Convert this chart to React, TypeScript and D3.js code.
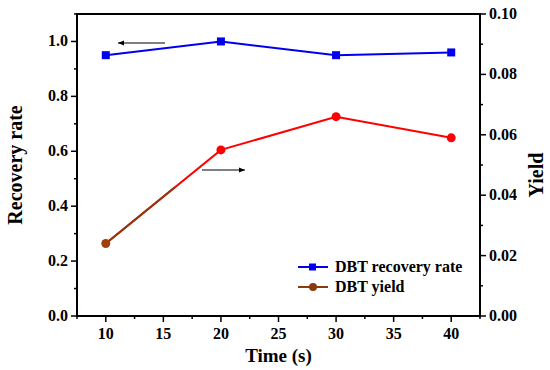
import * as d3 from "d3";
import { useRef, useEffect } from "react";

const times = [10, 20, 30, 40];
const recoveryRate = [0.95, 1.0, 0.95, 0.96];
const yieldValues = [0.024, 0.055, 0.066, 0.059];
const xTicks = [10, 15, 20, 25, 30, 35, 40];
const leftTicks = [0, 0.2, 0.4, 0.6, 0.8, 1.0];
const rightTicks = [0, 0.02, 0.04, 0.06, 0.08, 0.1];

export default function App() {
    const ref = useRef<SVGSVGElement | null>(null);

    useEffect(() => {
        const svg = d3.select(ref.current);
        svg.selectAll("*").remove();

        const width = 550;
        const height = 370;
        const m = { left: 77, right: 70, top: 14, bottom: 54 };
        const font = "'Liberation Serif', 'Times New Roman', 'DejaVu Serif', serif";

        svg.attr("width", width).attr("height", height).attr("font-family", font);

        const x = d3.scaleLinear().domain([7.5, 42.5]).range([m.left, width - m.right]);
        const yL = d3.scaleLinear().domain([0, 1.1]).range([height - m.bottom, m.top]);
        const yR = d3.scaleLinear().domain([0, 0.1]).range([height - m.bottom, m.top]);

        const x0 = m.left, x1 = width - m.right, yb = height - m.bottom, yt = m.top;

        const label = (sel: any, size: number) =>
            sel.style("font-family", font).attr("font-size", size).attr("font-weight", "bold");

        // frame
        svg.append("rect")
            .attr("x", x0).attr("y", yt)
            .attr("width", x1 - x0).attr("height", yb - yt)
            .attr("fill", "none").attr("stroke", "#000").attr("stroke-width", 2);

        const g = svg.append("g");

        // x ticks
        d3.range(7.5, 42.6, 2.5).forEach((t) => {
            const major = xTicks.includes(t);
            g.append("line")
                .attr("x1", x(t)).attr("x2", x(t))
                .attr("y1", yb).attr("y2", yb + (major ? 6 : 3))
                .attr("stroke", "#000").attr("stroke-width", 1.5);
        });
        xTicks.forEach((t) => {
            label(g.append("text"), 16)
                .attr("x", x(t)).attr("y", yb + 23)
                .attr("text-anchor", "middle")
                .text(t);
        });

        // left ticks
        d3.range(0, 1.11, 0.1).forEach((t, i) => {
            const major = i % 2 === 0;
            g.append("line")
                .attr("x1", x0).attr("x2", x0 - (major ? 6 : 3))
                .attr("y1", yL(t)).attr("y2", yL(t))
                .attr("stroke", "#000").attr("stroke-width", 1.5);
        });
        leftTicks.forEach((t) => {
            label(g.append("text"), 16)
                .attr("x", x0 - 9).attr("y", yL(t) + 5)
                .attr("text-anchor", "end")
                .text(t.toFixed(1));
        });

        // right ticks
        d3.range(0, 0.101, 0.01).forEach((t, i) => {
            const major = i % 2 === 0;
            g.append("line")
                .attr("x1", x1).attr("x2", x1 + (major ? 6 : 3))
                .attr("y1", yR(t)).attr("y2", yR(t))
                .attr("stroke", "#000").attr("stroke-width", 1.5);
        });
        rightTicks.forEach((t) => {
            label(g.append("text"), 16)
                .attr("x", x1 + 9).attr("y", yR(t) + 5)
                .attr("text-anchor", "start")
                .text(t.toFixed(2));
        });

        // axis titles
        label(svg.append("text"), 20)
            .attr("transform", `translate(22,${(yt + yb) / 2}) rotate(-90)`)
            .attr("text-anchor", "middle")
            .text("Recovery rate");
        label(svg.append("text"), 20)
            .attr("transform", `translate(543,${(yt + yb) / 2 + 10}) rotate(-90)`)
            .attr("text-anchor", "middle")
            .text("Yield");
        label(svg.append("text"), 19)
            .attr("x", (x0 + x1) / 2).attr("y", 362)
            .attr("text-anchor", "middle")
            .text("Time (s)");

        // lines
        const blueLine = d3.line<number>()
            .x((_, i) => x(times[i]))
            .y((d) => yL(d));
        const redLine = d3.line<number>()
            .x((_, i) => x(times[i]))
            .y((d) => yR(d));

        svg.append("path").attr("d", redLine(yieldValues)!)
            .attr("fill", "none").attr("stroke", "#f00").attr("stroke-width", 2);
        // brown overlay on first segment
        const f = 0.6;
        svg.append("line")
            .attr("x1", x(times[0])).attr("y1", yR(yieldValues[0]))
            .attr("x2", x(times[0] + f * (times[1] - times[0])))
            .attr("y2", yR(yieldValues[0] + f * (yieldValues[1] - yieldValues[0])))
            .attr("stroke", "#8b3a0e").attr("stroke-width", 2);

        svg.append("path").attr("d", blueLine(recoveryRate)!)
            .attr("fill", "none").attr("stroke", "#0000ee").attr("stroke-width", 2);

        recoveryRate.forEach((d, i) => {
            svg.append("rect")
                .attr("x", x(times[i]) - 4).attr("y", yL(d) - 4)
                .attr("width", 8).attr("height", 8)
                .attr("fill", "#0000ee");
        });
        yieldValues.forEach((d, i) => {
            svg.append("circle")
                .attr("cx", x(times[i])).attr("cy", yR(d)).attr("r", 4.5)
                .attr("fill", i === 0 ? "#a0400e" : "#f00");
        });

        // arrows
        const defs = svg.append("defs");
        defs.append("marker")
            .attr("id", "arr").attr("viewBox", "0 0 10 10")
            .attr("refX", 10).attr("refY", 5)
            .attr("markerWidth", 8).attr("markerHeight", 6)
            .attr("markerUnits", "userSpaceOnUse")
            .attr("orient", "auto")
            .append("path").attr("d", "M0,1 L10,5 L0,9 Z").attr("fill", "#000");
        svg.append("line")
            .attr("x1", 165).attr("y1", 43).attr("x2", 118).attr("y2", 43)
            .attr("stroke", "#000").attr("stroke-width", 1).attr("marker-end", "url(#arr)");
        svg.append("line")
            .attr("x1", 202).attr("y1", 170).attr("x2", 245).attr("y2", 170)
            .attr("stroke", "#000").attr("stroke-width", 1).attr("marker-end", "url(#arr)");

        // legend
        const lg = svg.append("g");
        const items = [
            { label: "DBT recovery rate", color: "#0000ee", marker: "square" },
            { label: "DBT yield", color: "#8b3a0e", marker: "circle" },
        ];
        items.forEach((it, i) => {
            const yy = 267 + i * 20;
            lg.append("line")
                .attr("x1", 298).attr("x2", 328).attr("y1", yy).attr("y2", yy)
                .attr("stroke", it.color).attr("stroke-width", 2);
            if (it.marker === "square") {
                lg.append("rect").attr("x", 309).attr("y", yy - 3.5)
                    .attr("width", 7).attr("height", 7).attr("fill", it.color);
            } else {
                lg.append("circle").attr("cx", 313).attr("cy", yy).attr("r", 4)
                    .attr("fill", it.color);
            }
            label(lg.append("text"), 16)
                .attr("x", 335).attr("y", yy + 5)
                .text(it.label);
        });
    }, []);

    return <svg ref={ref} style={{ display: "block", position: "absolute", left: 0, top: 0 }}></svg>;
}
